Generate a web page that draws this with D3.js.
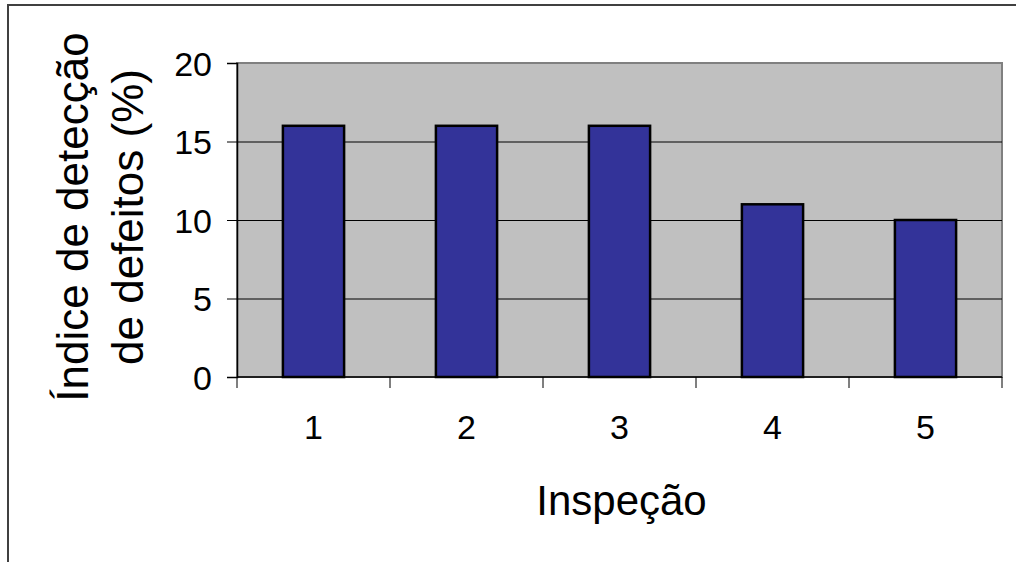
<!DOCTYPE html>
<html>
<head>
<meta charset="utf-8">
<script src="https://cdn.jsdelivr.net/npm/d3@7"></script>
<style>
  html, body { margin: 0; padding: 0; background: #ffffff; overflow: hidden; }
  svg { display: block; font-family: Arial, "Liberation Sans", sans-serif; }
</style>
</head>
<body>
<svg id="chart" width="1016" height="562"></svg>
<script>
const categories = ["1", "2", "3", "4", "5"];
const values = [16, 16, 16, 11, 10];
const yTicks = [0, 5, 10, 15, 20];
const xTitle = "Inspeção";
const yTitleLines = ["Índice de detecção", "de defeitos (%)"];

const svg = d3.select("#chart");
const plot = { left: 237, top: 63, right: 1002, bottom: 377 };

// outer frame (only top and left edges visible)
svg.append("path")
  .attr("d", "M8,562 L8,5 L1016,5")
  .attr("fill", "none").attr("stroke", "#404040").attr("stroke-width", 2);

const x = d3.scaleBand().domain(categories)
  .range([plot.left, plot.right]).paddingInner(0.6).paddingOuter(0.3);
const y = d3.scaleLinear().domain([0, 20]).range([plot.bottom, plot.top]);

// plot area
svg.append("rect")
  .attr("x", plot.left).attr("y", plot.top)
  .attr("width", plot.right - plot.left).attr("height", plot.bottom - plot.top)
  .attr("fill", "#C0C0C0").attr("stroke", "#808080").attr("stroke-width", 2);

// gridlines
svg.append("g").selectAll("line")
  .data(yTicks.filter(d => d > 0 && d < 20))
  .join("line")
  .attr("x1", plot.left).attr("x2", plot.right)
  .attr("y1", d => y(d) + 0.5).attr("y2", d => y(d) + 0.5)
  .attr("stroke", "#000").attr("stroke-width", 1);

// bars
svg.append("g").selectAll("rect")
  .data(values)
  .join("rect")
  .attr("x", (d, i) => x(categories[i]))
  .attr("y", d => y(d))
  .attr("width", x.bandwidth())
  .attr("height", d => y(0) - y(d))
  .attr("fill", "#333399").attr("stroke", "#000").attr("stroke-width", 2.5);

// y axis
const yAxis = d3.axisLeft(y).tickValues(yTicks).tickSize(10).tickPadding(15);
const gy = svg.append("g").attr("transform", `translate(${plot.left},0)`).call(yAxis);
gy.select(".domain").attr("stroke", "#000").attr("stroke-width", 1.5);
gy.selectAll(".tick line").attr("stroke", "#000");
gy.selectAll(".tick text").attr("font-size", 34).attr("fill", "#000")
  .attr("font-family", "Arial, 'Liberation Sans', sans-serif").attr("dy", "0.36em");

// x axis with ticks at category boundaries
const gx = svg.append("g").attr("transform", `translate(0,${plot.bottom})`);
gx.append("line").attr("x1", plot.left).attr("x2", plot.right)
  .attr("y1", 0).attr("y2", 0).attr("stroke", "#000").attr("stroke-width", 1.5);
const step = x.step();
const boundaries = d3.range(categories.length + 1).map(i => plot.left + i * step);
gx.selectAll("line.tk").data(boundaries).join("line").attr("class", "tk")
  .attr("x1", d => d).attr("x2", d => d).attr("y1", 0).attr("y2", 11)
  .attr("stroke", "#000");
gx.selectAll("text").data(categories).join("text")
  .attr("x", d => x(d) + x.bandwidth() / 2)
  .attr("y", 62)
  .attr("text-anchor", "middle")
  .attr("font-size", 34).attr("fill", "#000")
  .text(d => d);

// x title
svg.append("text")
  .attr("x", (plot.left + plot.right) / 2 + 2)
  .attr("y", 515)
  .attr("text-anchor", "middle")
  .attr("font-size", 42).attr("fill", "#000")
  .text(xTitle);

// y title (two lines, rotated)
const yt = svg.append("text")
  .attr("transform", "translate(88,217) rotate(-90)")
  .attr("text-anchor", "middle")
  .attr("font-size", 44).attr("fill", "#000");
yTitleLines.forEach((t, i) => {
  yt.append("tspan").attr("x", 0).attr("y", i * 55).text(t);
});
</script>
</body>
</html>
